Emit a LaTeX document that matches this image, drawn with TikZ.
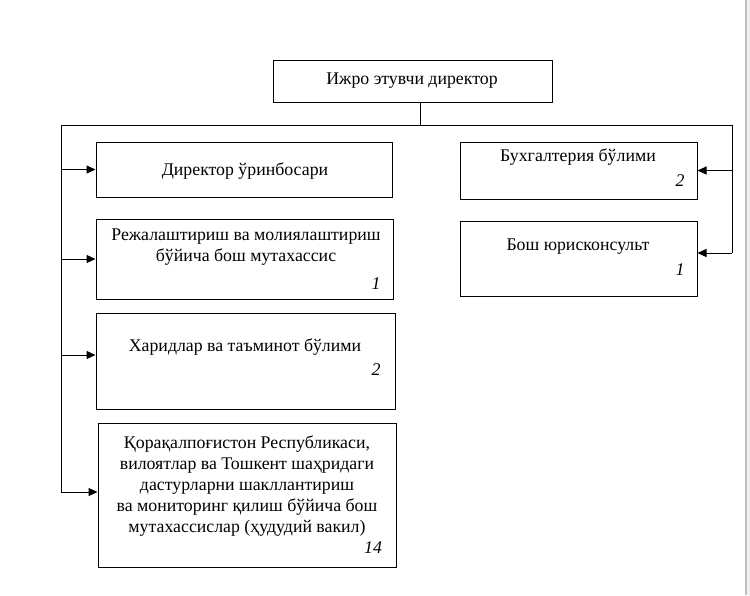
\documentclass[tikz,border=0pt]{standalone}
\usepackage{fontspec}
\setmainfont{Liberation Serif}
\usetikzlibrary{arrows.meta}
\begin{document}
\begin{tikzpicture}[x=1pt,y=-1pt,
  box/.style={draw,line width=1pt,minimum width=#1,inner sep=0pt},
  lbl/.style={inner sep=0pt,font=\fontsize{17.8}{21}\selectfont,align=center},
  num/.style={inner sep=0pt,font=\fontsize{17.8}{21}\selectfont\itshape},
  conn/.style={line width=1pt},
  arr/.style={line width=1pt,-{Triangle[length=9pt,width=8pt]}}]
\useasboundingbox (0,0) rectangle (750,595);
\fill[white] (0,0) rectangle (750,595);
\fill[black!6] (746,0) rectangle (750,595);
\draw[black!25,line width=1.2pt] (746,0) -- (746,595);
% boxes
\node[box=279pt,minimum height=42pt] (top) at (412.5,81) {};
\node[box=296pt,minimum height=55pt] (b1) at (244,169.5) {};
\node[box=297pt,minimum height=80pt] (b2) at (244.5,259) {};
\node[box=299pt,minimum height=96pt] (b3) at (245.5,361) {};
\node[box=298pt,minimum height=144pt] (b4) at (247,495) {};
\node[box=237pt,minimum height=57pt] (rA) at (578.5,170.5) {};
\node[box=237pt,minimum height=75pt] (rB) at (578.5,258.5) {};
% texts
\node[lbl] (ttop) at (412,81) {Ижро этувчи директор};
\node[lbl] (t1) at (245,171) {Директор ўринбосари};
\node[lbl] (t2) at (246,247) {Режалаштириш ва молиялаштириш\\бўйича бош мутахассис};
\node[num] (n2) at (376,284) {1};
\node[lbl] (t3) at (245,347) {Харидлар ва таъминот бўлими};
\node[num] (n3) at (376,370) {2};
\node[lbl] (t4) at (247,486) {Қорақалпоғистон Республикаси,\\вилоятлар ва Тошкент шаҳридаги\\дастурларни шакллантириш\\ва мониторинг қилиш бўйича бош\\мутахассислар (ҳудудий вакил)};
\node[num] (n4) at (373,548) {14};
\node[lbl] (tA) at (578,157) {Бухгалтерия бўлими};
\node[num] (nA) at (680,181) {2};
\node[lbl] (tB) at (578,247) {Бош юрисконсульт};
\node[num] (nB) at (680,270) {1};
% connectors
\coordinate (j) at (420,125);
\coordinate (lt) at (61,125);
\coordinate (rt) at (732,125);
\coordinate (lb) at (61,492);
\coordinate (rb) at (732,253);
\draw[conn] (top.south -| j) -- (j);
\draw[conn] (lt) -- (rt);
\draw[conn] (lt) -- (lb);
\draw[conn] (rt) -- (rb);
\draw[arr] (lt |- b1.west) -- (b1.west);
\draw[arr] (lt |- b2.west) -- (b2.west);
\draw[arr] ([yshift=6pt]b3.west -| lt) -- ([yshift=6pt]b3.west);
\draw[arr] (lb) -- (lb -| b4.west);
\draw[arr] (rt |- rA.east) -- (rA.east);
\draw[arr] (rb) -- (rb -| rB.east);
\end{tikzpicture}
\end{document}
